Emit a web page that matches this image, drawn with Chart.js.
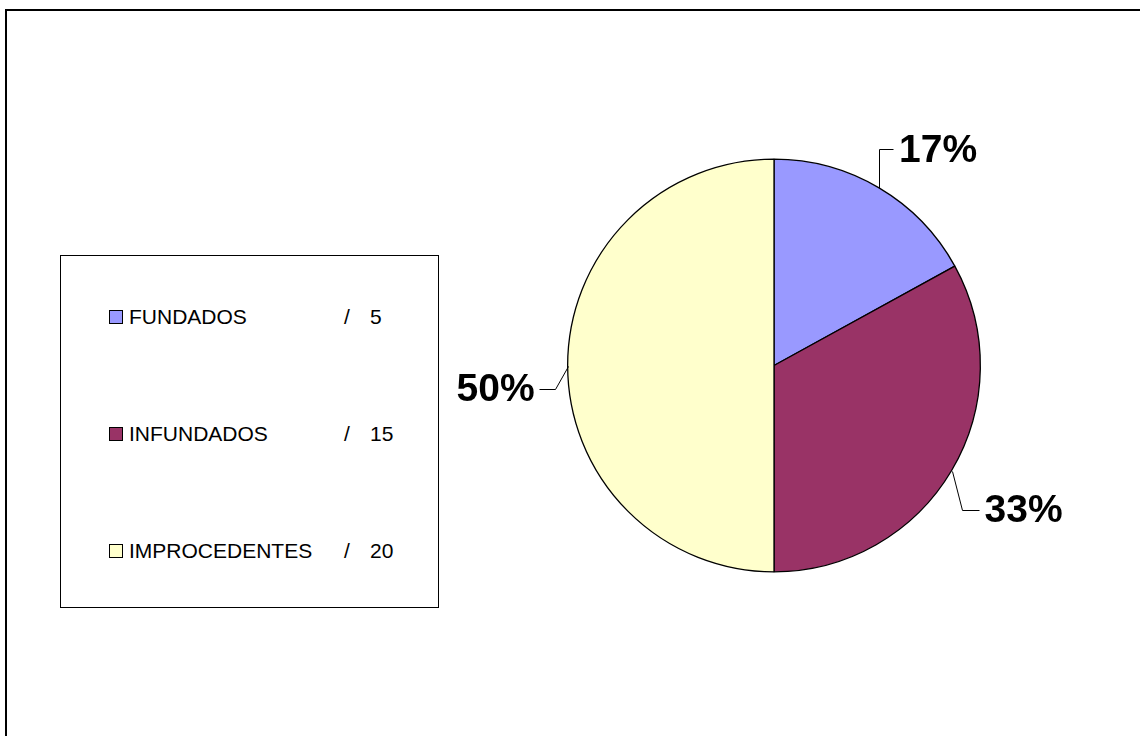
<!DOCTYPE html>
<html>
<head>
<meta charset="utf-8">
<script src="https://cdn.jsdelivr.net/npm/chart.js@4.4.1/dist/chart.umd.min.js"></script>
<style>
  html, body { margin: 0; padding: 0; background: #fff; }
  body { width: 1140px; height: 736px; position: relative; overflow: hidden; font-family: "Liberation Sans", Arial, sans-serif; }
  #frame { position: absolute; left: 5px; top: 9px; width: 1300px; height: 900px;
           border-top: 2px solid #000; border-left: 2px solid #000; }
  #pie { position: absolute; left: 0; top: 0; }
  #legend { position: absolute; left: 60px; top: 255px; width: 377px; height: 351px;
            border: 1px solid #000; background: #fff; }
  .item { position: absolute; left: 0; height: 24px; width: 100%; font-size: 21px; color: #000; }
  .item .box { position: absolute; left: 48px; top: 4px; width: 12px; height: 12px; border: 1px solid #000; }
  .item .name { position: absolute; left: 68px; top: 0; line-height: 22px; white-space: nowrap; }
  .item .sep { position: absolute; left: 283px; top: 0; line-height: 22px; }
  .item .num { position: absolute; left: 309px; top: 0; line-height: 22px; }
</style>
</head>
<body>
<div id="frame"></div>
<canvas id="pie" width="1140" height="736"></canvas>
<div id="legend"></div>
<script>
// fatias do gráfico (percentagens) e contagens da legenda
var labels = ['FUNDADOS', 'INFUNDADOS', 'IMPROCEDENTES'];
var counts = [5, 15, 20];
var percents = [17, 33, 50];
var colors = ['#9999ff', '#993366', '#ffffcc'];

// legenda em caixa, fora do canvas
(function () {
  var box = document.getElementById('legend');
  var rowTop = [50, 167, 284];
  labels.forEach(function (lab, i) {
    var el = document.createElement('div');
    el.className = 'item';
    el.style.top = rowTop[i] + 'px';
    el.innerHTML = '<span class="box" style="background:' + colors[i] + '"></span>' +
      '<span class="name">' + lab + '</span><span class="sep">/</span>' +
      '<span class="num">' + counts[i] + '</span>';
    box.appendChild(el);
  });
})();

// rótulos de percentagem com linha de chamada (cotovelo)
var leaderOffsets = [
  { dx: 0, dy: -39, run: 14, side: 1 },
  { dx: 10, dy: 39, run: 17, side: 1 },
  { dx: -13, dy: 23, run: 16, side: -1 }
];

var calloutPlugin = {
  id: 'callouts',
  afterDatasetsDraw: function (chart) {
    var ctx = chart.ctx;
    var meta = chart.getDatasetMeta(0);
    ctx.save();
    ctx.strokeStyle = '#000';
    ctx.lineWidth = 1;
    ctx.fillStyle = '#000';
    ctx.font = 'bold 39px "Liberation Sans", Arial, sans-serif';
    ctx.textBaseline = 'middle';
    meta.data.forEach(function (arc, i) {
      var p = arc.getProps(['x', 'y', 'startAngle', 'endAngle', 'outerRadius'], true);
      var mid = (p.startAngle + p.endAngle) / 2;
      var ex = p.x + Math.cos(mid) * p.outerRadius;
      var ey = p.y + Math.sin(mid) * p.outerRadius;
      var o = leaderOffsets[i];
      var kx = ex + o.dx, ky = ey + o.dy;
      var tx = kx + o.side * o.run;
      ctx.beginPath();
      ctx.moveTo(Math.round(ex) + 0.5, Math.round(ey) + 0.5);
      ctx.lineTo(Math.round(kx) + 0.5, Math.round(ky) + 0.5);
      ctx.lineTo(Math.round(tx) + 0.5, Math.round(ky) + 0.5);
      ctx.stroke();
      ctx.textAlign = o.side > 0 ? 'left' : 'right';
      ctx.fillText(percents[i] + '%', tx + o.side * (o.side > 0 ? 6 : 4), ky + 2);
    });
    ctx.restore();
  }
};

new Chart(document.getElementById('pie').getContext('2d'), {
  type: 'pie',
  data: {
    labels: labels,
    datasets: [{
      data: percents,
      backgroundColor: colors,
      borderColor: '#000',
      borderWidth: 1.3
    }]
  },
  options: {
    responsive: false,
    animation: false,
    layout: { padding: { left: 567, right: 159, top: 158, bottom: 163 } },
    plugins: {
      legend: { display: false },
      tooltip: { enabled: false }
    }
  },
  plugins: [calloutPlugin]
});
</script>
</body>
</html>
